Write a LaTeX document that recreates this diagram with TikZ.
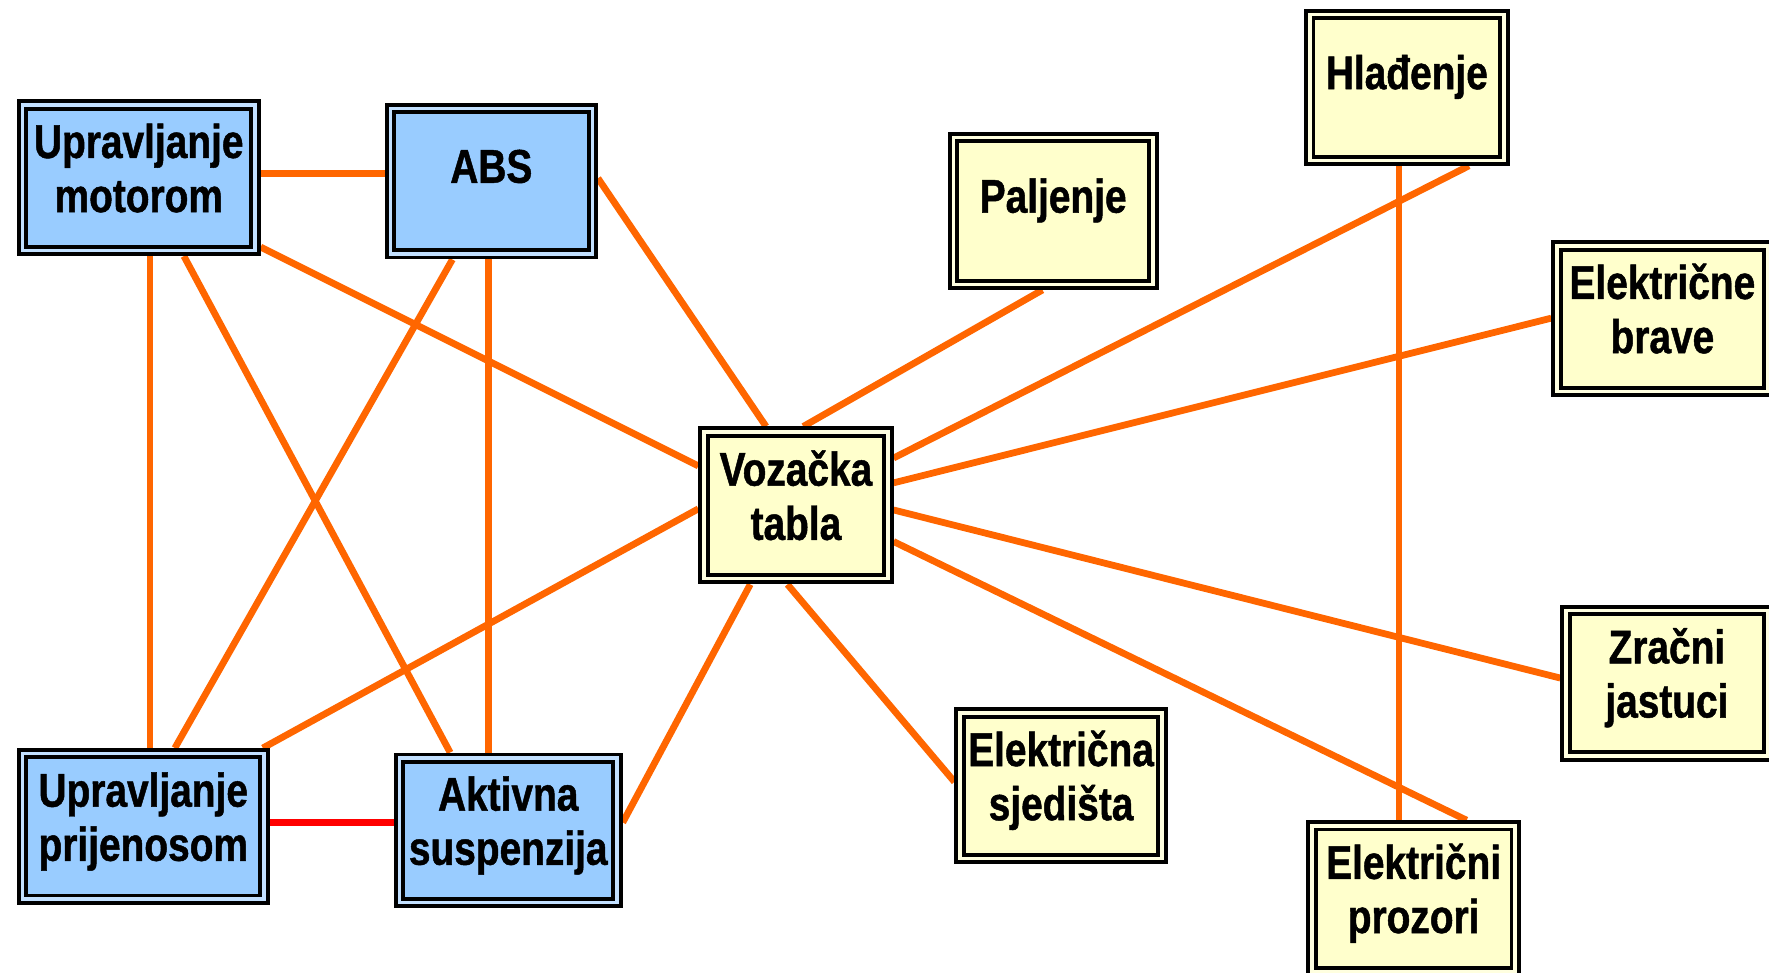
\documentclass[tikz,border=0pt]{standalone}
\usepackage{fontspec}
\newfontfamily\boxfont{Liberation Sans}[FakeStretch=0.82, BoldFeatures={FakeBold=1}]
\usetikzlibrary{calc,backgrounds}
\definecolor{unitblue}{HTML}{99CCFF}
\definecolor{unityellow}{HTML}{FFFFCC}
\definecolor{linkorange}{HTML}{FF6600}
\definecolor{linkred}{HTML}{FF0000}
% one text line with fixed height and depth
\newcommand\tline[1]{\rule[-10pt]{0pt}{48pt}#1}
\tikzset{
  unit/.style={draw=black, line width=3.5pt, double distance=3pt,
    inner sep=0pt, outer sep=5pt, rectangle},
  bluebox/.style={unit, double=unitblue!60!white, fill=unitblue},
  yellowbox/.style={unit, double=unityellow!60!white, fill=unityellow},
  txt/.style={font=\boxfont\bfseries\fontsize{42}{48}\selectfont,
    align=center, inner sep=0pt, text=black},
  two/.style={txt, yshift=7.5pt},
  one/.style={txt, yshift=12.5pt},
  link/.style={linkorange, line width=6pt},
  redlink/.style={linkred, line width=6pt},
}
\begin{document}
\begin{tikzpicture}[x=1pt, y=-1pt]
\clip (0,0) rectangle (1568,862);
\useasboundingbox (0,0) rectangle (1568,862);

% control units
\node[bluebox, minimum width=206pt, minimum height=129pt,
  label={[two]center:{\tline{Upravljanje}\\\tline{motorom}}}] (um) at (123,157.5) {};
\node[bluebox, minimum width=179pt, minimum height=129pt,
  label={[one]center:{\tline{ABS}}}] (abs) at (435.5,160.5) {};
\node[bluebox, minimum width=214pt, minimum height=129pt,
  label={[two]center:{\tline{Upravljanje}\\\tline{prijenosom}}}] (up) at (127,732.5) {};
\node[bluebox, minimum width=193pt, minimum height=128pt,
  label={[two]center:{\tline{Aktivna}\\\tline{suspenzija}}}] (as) at (450.5,736) {};

% body units
\node[yellowbox, minimum width=163pt, minimum height=130pt,
  label={[two]center:{\tline{Vozačka}\\\tline{tabla}}}] (vt) at (705.5,448) {};
\node[yellowbox, minimum width=177pt, minimum height=130pt,
  label={[one]center:{\tline{Paljenje}}}] (pal) at (933.5,187) {};
\node[yellowbox, minimum width=172pt, minimum height=129pt,
  label={[one]center:{\tline{Hlađenje}}}] (hla) at (1247,77.5) {};
\node[yellowbox, minimum width=187pt, minimum height=129pt,
  label={[two]center:{\tline{Električne}\\\tline{brave}}}] (eb) at (1473.5,282.5) {};
\node[yellowbox, minimum width=179pt, minimum height=129pt,
  label={[two]center:{\tline{Zračni}\\\tline{jastuci}}}] (zj) at (1477.5,605.5) {};
\node[yellowbox, minimum width=179pt, minimum height=129pt,
  label={[two]center:{\tline{Električna}\\\tline{sjedišta}}}] (es) at (940.5,696.5) {};
\node[yellowbox, minimum width=180pt, minimum height=129pt,
  label={[two]center:{\tline{Električni}\\\tline{prozori}}}] (ep) at (1253,796.5) {};

% connections
\begin{scope}[on background layer]
\draw[link] ($(um.east)+(0,-3.5)$) -- ($(abs.west)+(0,-6.5)$);
\draw[link] ($(um.south east)+(0,-8)$) -- ($(vt.west)+(0,-35)$);
\draw[link] ($(um.south)+(10,0)$) -- ($(up.north)+(6,0)$);
\draw[link] ($(um.south)+(40,0)$) -- ($(as.north)+(-51.5,0)$);
\draw[link] ($(abs.south)+(-34.5,0)$) -- ($(up.north)+(28,0)$);
\draw[link] ($(abs.south)+(-2.5,0)$) -- ($(as.north)+(-17.5,0)$);
\draw[link] ($(abs.east)+(0,-2.5)$) -- ($(vt.north)+(-26.5,0)$);
\draw[link] ($(pal.south)+(-9.5,0)$) -- ($(vt.north)+(6.5,0)$);
\draw[link] ($(hla.south)+(55,0)$) -- ($(vt.east)+(0,-42)$);
\draw[link] ($(hla.south)+(-7,0)$) -- ($(ep.north)+(-13,0)$);
\draw[link] ($(eb.west)+(0,-0.5)$) -- ($(vt.east)+(0,-20)$);
\draw[link] ($(vt.east)+(0,4)$) -- ($(zj.west)+(0,-4.5)$);
\draw[link] ($(vt.east)+(0,32)$) -- ($(ep.north)+(47,0)$);
\draw[link] ($(vt.south)+(-7.5,0)$) -- ($(es.west)+(0,-3.5)$);
\draw[link] ($(vt.south)+(-40.5,0)$) -- ($(as.east)+(0,-7)$);
\draw[link] ($(vt.west)+(0,3)$) -- ($(up.north east)+(-6,0)$);
\draw[redlink] ($(up.east)+(0,-3.5)$) -- ($(as.west)+(0,-7)$);
\end{scope}
\end{tikzpicture}
\end{document}
